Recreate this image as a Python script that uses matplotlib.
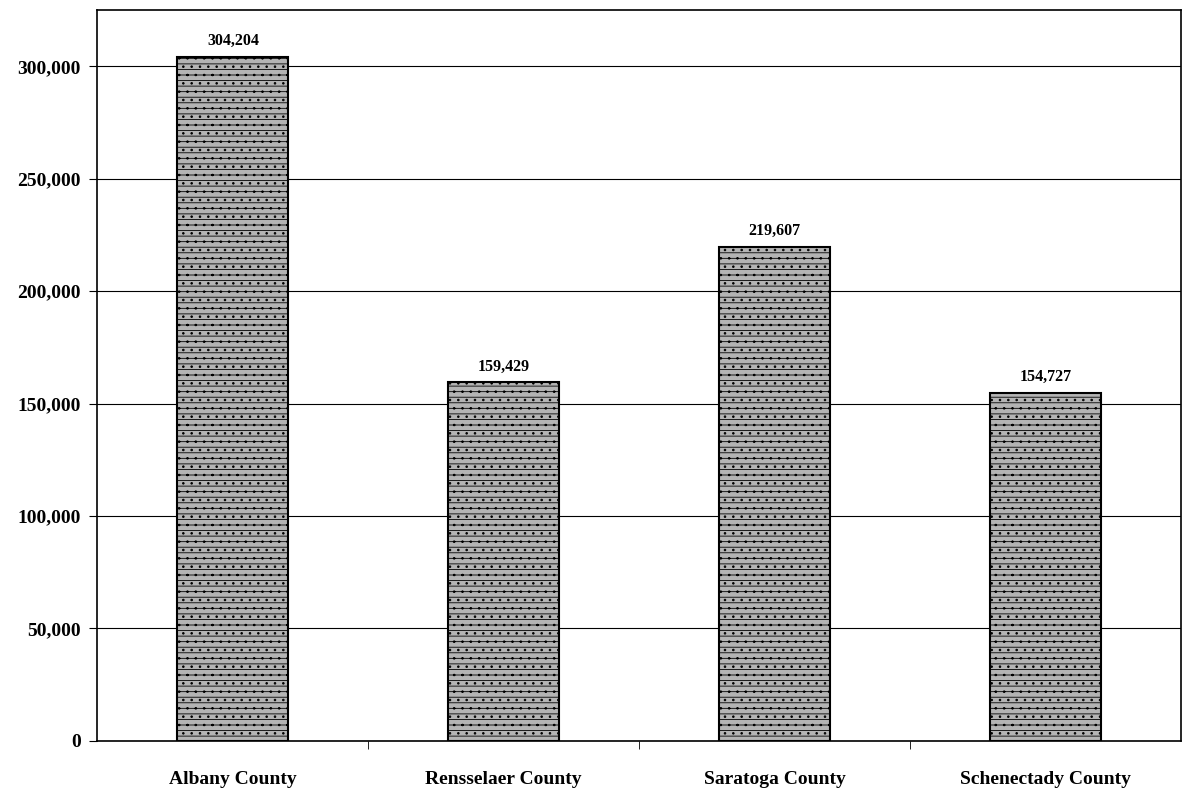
import matplotlib.pyplot as plt
from matplotlib.ticker import FuncFormatter

counties = ['Albany County', 'Rensselaer County', 'Saratoga County', 'Schenectady County']
population = [304204, 159429, 219607, 154727]
yticks = [0, 50000, 100000, 150000, 200000, 250000, 300000]

plt.rcParams['font.family'] = ['Liberation Serif', 'DejaVu Serif']
plt.rcParams['font.weight'] = 'bold'
plt.rcParams['hatch.color'] = '#3a3a3a'
plt.rcParams['hatch.linewidth'] = 0.6

fig = plt.figure(figsize=(11.89, 7.88), dpi=100)
ax = fig.add_axes([0.082, 0.06, 0.911, 0.927])

x = list(range(len(counties)))
bars = ax.bar(x, population, width=0.41, color='#b4b4b4', edgecolor='black',
              linewidth=1.5, hatch='-.-.-', zorder=3)

for xi, v in zip(x, population):
    ax.text(xi, v + 3500, f'{v:,}', ha='center', va='bottom',
            fontsize=11.5, fontweight='bold')

ax.set_xlim(-0.5, 3.5)
ax.set_ylim(0, 325000)
ax.set_yticks(yticks)
ax.yaxis.set_major_formatter(FuncFormatter(lambda v, p: f'{int(v):,}'))
ax.set_xticks(x)
ax.set_xticklabels(counties)
ax.set_xticks([0.5, 1.5, 2.5], minor=True)
ax.tick_params(axis='x', which='major', length=0, pad=22, labelsize=14)
ax.tick_params(axis='x', which='minor', length=6, direction='out')
ax.tick_params(axis='y', length=6, direction='out', labelsize=14, pad=6)

ax.grid(axis='y', color='black', linewidth=0.8, zorder=0)
for s in ax.spines.values():
    s.set_linewidth(1.2)

fig.savefig('out.png', dpi=100)
